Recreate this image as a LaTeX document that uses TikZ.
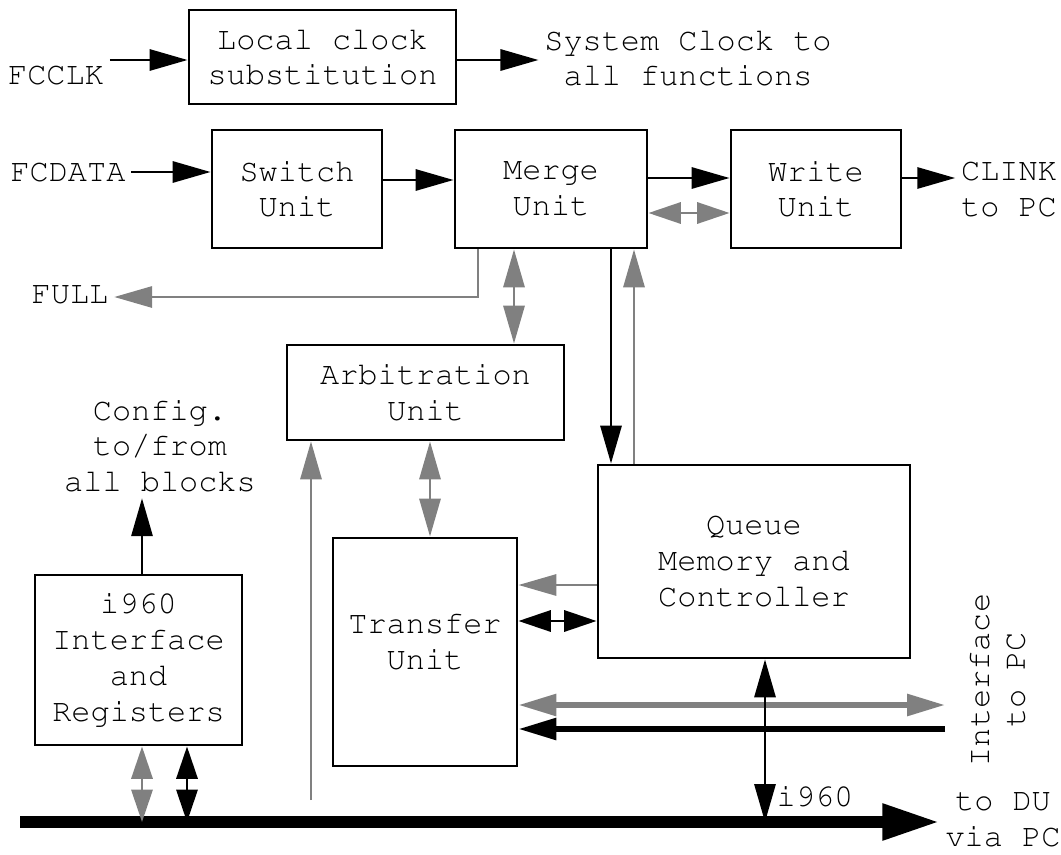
\documentclass[tikz,border=0pt]{standalone}
\usepackage[T1]{fontenc}
\usepackage{tikz}
\usetikzlibrary{arrows.meta}
\newcommand{\blockfont}{\fontfamily{pcr}\fontsize{22.7}{25.5}\selectfont}

\begin{document}
\begin{tikzpicture}[x=0.025cm,y=-0.025cm,>={Triangle[length=27pt,width=15pt]},
	every node/.style={font=\blockfont,align=center,inner sep=4pt},
	unit/.style={draw,line width=2pt,inner sep=0pt},
	sig/.style={line width=2pt},
	gsig/.style={line width=2pt,draw=gray},
	shorttip/.style={>={Triangle[length=23pt,width=15pt]}},
	bus/.style={line width=8.5pt,-{Triangle[length=41pt,width=24pt]}}]

	\useasboundingbox (0,0) rectangle (1061,855);

	% blocks
	\node[unit,minimum width=6.675cm,minimum height=2.35cm] (clock) at (322.5,57) {Local clock\\substitution};
	\node[unit,minimum width=4.25cm,minimum height=2.95cm] (switch) at (297,189) {Switch\\Unit};
	\node[unit,minimum width=4.8cm,minimum height=2.95cm] (merge) at (551,189) {Merge\\Unit};
	\node[unit,minimum width=4.25cm,minimum height=2.95cm] (write) at (816,189) {Write\\Unit};
	\node[unit,minimum width=6.925cm,minimum height=2.375cm] (arb) at (425.5,392.5) {Arbitration\\Unit};
	\node[unit,minimum width=7.8cm,minimum height=4.825cm] (queue) at (754,561.5) {Queue\\Memory and\\Controller};
	\node[unit,minimum width=4.6cm,minimum height=5.7cm] (xfer) at (425,652) {Transfer\\Unit\\[-0.35cm]};
	\node[unit,minimum width=5.175cm,minimum height=4.25cm] (io) at (138.5,660) {i960\\Interface\\and\\Registers};

	% signal names
	\node (fcclk) at (56,75) {FCCLK};
	\node (sysclk) at (688,58) {System Clock to\\all functions};
	\node (fcdata) at (68,172) {FCDATA};
	\node (clink) at (1009,189) {CLINK\\to PC};
	\node (full) at (70,295) {FULL};
	\node (cfg) at (160,446) {Config.\\to/from\\all blocks};
	\node[rotate=90] (pc) at (997,680) {Interface\\to PC};
	\node (i960) at (815,797) {i960};
	\node (todu) at (1003,820) {to DU\\via PC};

	\coordinate (busL) at (20,822);
	\coordinate (busR) at (940,822);
	\coordinate (pcA) at (945,705);
	\coordinate (pcB) at (945,729);
	\coordinate (arbIn) at (311,800);

	% clock and data path
	\draw[sig,->] (fcclk.east |- 0,60) -- (clock.west |- 0,60);
	\draw[sig,->] (clock.east |- 0,60) -- (sysclk.west |- 0,60);
	\draw[sig,->] (fcdata.east) -- (fcdata.east -| switch.west);
	\draw[sig,->] (switch.east |- 0,180) -- (merge.west |- 0,180);
	\draw[sig,->] (merge.east |- 0,178) -- (write.west |- 0,178);
	\draw[gsig,shorttip,<->] (merge.east |- 0,213) -- (write.west |- 0,213);
	\draw[sig,->] (write.east |- 0,178) -- (clink.west |- 0,178);
	\draw[gsig,->] (merge.south -| 478,0) |- (full.east |- 0,297);

	% merge, arbitration, queue and transfer
	\draw[gsig,<->] (merge.south -| 514,0) -- (arb.north -| 514,0);
	\draw[sig,->] (merge.south -| 611,0) -- (queue.north -| 611,0);
	\draw[gsig,->] (queue.north -| 634,0) -- (merge.south -| 634,0);
	\draw[gsig,<->] (arb.south -| 430,0) -- (xfer.north -| 430,0);
	\draw[gsig,->] (arbIn) -- (arb.south -| arbIn);
	\draw[gsig,->] (queue.west |- 0,585) -- (xfer.east |- 0,585);
	\draw[sig,shorttip,<->] (xfer.east |- 0,621) -- (queue.west |- 0,621);
	\draw[gsig,line width=4pt,<->] (xfer.east |- pcA) -- (pcA);
	\draw[sig,line width=4pt,->] (pcB) -- (xfer.east |- pcB);

	% i960 bus
	\draw[bus] (busL) -- (busR);
	\draw[sig,<->] (queue.south -| 765,0) -- (765,822);
	\draw[sig,->] (io.north -| 142,0) -- (cfg.south -| 142,0);
	\draw[gsig,shorttip,<->] (io.south -| 142,0) -- (142,822);
	\draw[sig,shorttip,<->] (io.south -| 187,0) -- (187,822);
\end{tikzpicture}
\end{document}
